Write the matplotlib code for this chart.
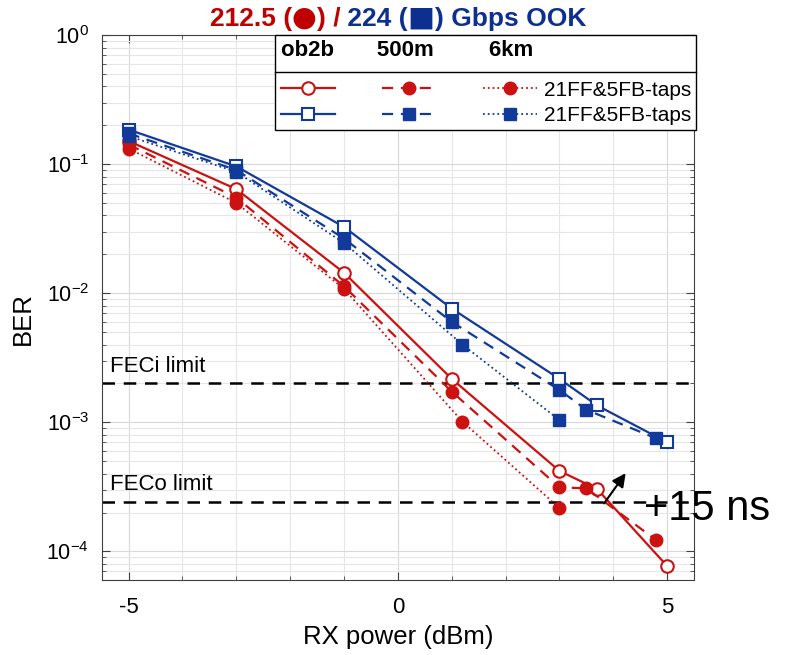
import matplotlib
matplotlib.use('Agg')
import matplotlib.pyplot as plt
from matplotlib.lines import Line2D
from matplotlib.offsetbox import TextArea, HPacker, AnchoredOffsetbox
from matplotlib.ticker import LogLocator, MultipleLocator, NullFormatter
import numpy as np

plt.rcParams['font.family'] = ['Liberation Sans', 'DejaVu Sans']
plt.rcParams['mathtext.fontset'] = 'custom'
plt.rcParams['mathtext.rm'] = 'Liberation Sans'
plt.rcParams['mathtext.it'] = 'Liberation Sans:italic'
plt.rcParams['mathtext.bf'] = 'Liberation Sans:bold'

# data: RX power (dBm) and BER
x_red_b2b = [-5, -3, -1, 1, 3, 3.7, 5]
ber_red_b2b = [0.151, 0.064, 0.0144, 2.17e-3, 4.2e-4, 3.04e-4, 7.7e-5]
x_red_500 = [-5, -3, -1, 1, 3, 3.5, 4.8]
ber_red_500 = [0.142, 0.055, 0.0113, 1.73e-3, 3.13e-4, 3.08e-4, 1.22e-4]
x_red_6k = [-5, -3, -1, 1.2, 3]
ber_red_6k = [0.132, 0.050, 0.0108, 1.01e-3, 2.17e-4]

x_blue_b2b = [-5, -3, -1, 1, 3, 3.7, 5]
ber_blue_b2b = [0.185, 0.096, 0.0326, 7.6e-3, 2.17e-3, 1.35e-3, 7.0e-4]
x_blue_500 = [-5, -3, -1, 1, 3, 3.5, 4.8]
ber_blue_500 = [0.173, 0.090, 0.0265, 6.0e-3, 1.78e-3, 1.25e-3, 7.5e-4]
x_blue_6k = [-5, -3, -1, 1.2, 3]
ber_blue_6k = [0.165, 0.087, 0.0245, 4.0e-3, 1.04e-3]

feci = 2e-3
feco = 2.4e-4
arrow_from = (3.8, 2.26e-4)
arrow_to = (4.26, 4.2e-4)

red = '#cc1111'
blue = '#123a9a'

fig = plt.figure(figsize=(7.86, 6.55), dpi=100)
ax = fig.add_axes([0.1294, 0.1145, 0.7536, 0.832])

ms = 9
h1, = ax.plot(x_red_b2b, ber_red_b2b, '-', color=red, lw=1.6, marker='o', ms=ms,
              mfc='white', mec=red, mew=1.5)
h2, = ax.plot(x_red_500, ber_red_500, '--', color=red, lw=1.6, marker='o', ms=ms,
              mfc=red, mec=red, dashes=(5, 3.5))
h3, = ax.plot(x_red_6k, ber_red_6k, ':', color=red, lw=1.3, marker='o', ms=ms,
              mfc=red, mec=red)
h4, = ax.plot(x_blue_b2b, ber_blue_b2b, '-', color=blue, lw=1.6, marker='s', ms=8,
              mfc='white', mec=blue, mew=1.5)
h5, = ax.plot(x_blue_500, ber_blue_500, '--', color=blue, lw=1.6, marker='s', ms=8,
              mfc=blue, mec=blue, dashes=(5, 3.5))
h6, = ax.plot(x_blue_6k, ber_blue_6k, ':', color=blue, lw=1.3, marker='s', ms=8,
              mfc=blue, mec=blue)

ax.axhline(feci, color='black', ls='--', lw=1.8, dashes=(5, 3.5), zorder=1.5)
ax.axhline(feco, color='black', ls='--', lw=1.8, dashes=(5, 3.5), zorder=1.5)
ax.text(-5.35, feci * 1.13, 'FECi limit', fontsize=16, va='bottom', ha='left')
ax.text(-5.35, feco * 1.13, 'FECo limit', fontsize=16, va='bottom', ha='left')

ax.annotate('', xy=arrow_to, xytext=arrow_from,
            arrowprops=dict(arrowstyle='-|>', color='black', lw=1.5, mutation_scale=20))
ax.text(4.57, 2.14e-4, '+15 ns', fontsize=30, va='center', ha='left', clip_on=False)

ax.set_yscale('log')
ax.set_xlim(-5.5, 5.5)
ax.set_ylim(6e-5, 1)
ax.set_xticks([-5, 0, 5])
ax.set_xticklabels(['-5', '0', '5'])
ax.xaxis.set_minor_locator(MultipleLocator(1))
ax.yaxis.set_major_locator(LogLocator(base=10, numticks=10))
ax.yaxis.set_minor_locator(LogLocator(base=10, subs=np.arange(2, 10), numticks=20))
ax.yaxis.set_minor_formatter(NullFormatter())
ax.tick_params(which='both', direction='in', top=True, right=True, color='#404040')
ax.tick_params(axis='x', labelsize=16, pad=12)
ax.tick_params(axis='y', labelsize=15.5, pad=9)
ax.tick_params(which='major', length=6)
ax.tick_params(which='minor', length=3)
ax.grid(True, which='major', color='#d8d8d8', lw=0.8)
ax.grid(True, which='minor', color='#e6e6e6', lw=0.8)
ax.set_axisbelow(True)
for s in ax.spines.values():
    s.set_color('#404040')
ax.set_xlabel('RX power (dBm)', fontsize=18.5, labelpad=5)
ax.set_ylabel('BER', fontsize=18.5)
ax.yaxis.set_label_coords(-0.113, 0.48)

# two-colour title with large marker glyphs
tred = dict(color='#c00000', fontsize=19, fontweight='bold')
tblue = dict(color='#0d2f8f', fontsize=19, fontweight='bold')
parts = [TextArea('212.5 (', textprops=tred),
         TextArea('\u25CF', textprops=dict(color='#c00000', fontsize=20.5, family='DejaVu Sans')),
         TextArea(') /', textprops=tred),
         TextArea(' 224 (', textprops=tblue),
         TextArea('\u25A0', textprops=dict(color='#0d2f8f', fontsize=20.5, family='DejaVu Sans')),
         TextArea(') Gbps OOK', textprops=tblue)]
title_box = HPacker(children=parts, align='baseline', pad=0, sep=0)
ax.add_artist(AnchoredOffsetbox(loc='lower center', child=title_box, pad=0, borderpad=0,
                                frameon=False, bbox_to_anchor=(0.5, 1.006),
                                bbox_transform=ax.transAxes))

leg = ax.legend([h1, h4, h2, h5, h3, h6],
                ['', '', '', '', '21FF&5FB-taps', '21FF&5FB-taps'],
                ncol=3, loc='upper right', bbox_to_anchor=(1.0034, 1.0), borderaxespad=0,
                fontsize=15, handlelength=2.6, handletextpad=0.3, columnspacing=1.96,
                borderpad=0.25, labelspacing=0.3,
                title='ob2b' + ' ' * 7 + '500m' + ' ' * 9 + '6km', alignment='left',
                fancybox=False, framealpha=1, edgecolor='black')
leg.get_title().set_fontsize(16)
leg.get_title().set_fontweight('bold')
leg.get_frame().set_linewidth(1.0)
leg._legend_box.sep = 14

fig.canvas.draw()
inv = fig.transFigure.inverted()
lb = leg.get_window_extent().transformed(inv)
row1 = leg.get_texts()[4].get_window_extent()
ysep = inv.transform((0, (row1.y0 + row1.y1) / 2 + 18))[1]
fig.add_artist(Line2D([lb.x0, lb.x1], [ysep, ysep], transform=fig.transFigure,
                      color='black', lw=1.0, zorder=10))

fig.savefig('out.png', dpi=100)
